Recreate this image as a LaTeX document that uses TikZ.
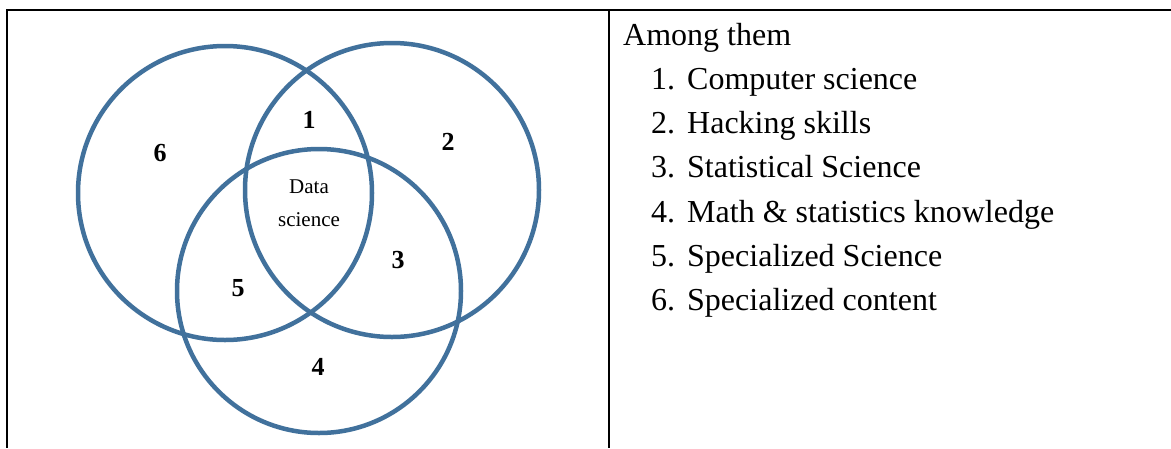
\documentclass[tikz,border=0pt]{standalone}
\usepackage{fontspec}
\setmainfont{Liberation Serif}
\usetikzlibrary{positioning}
\definecolor{ink}{HTML}{000000}
\definecolor{vennblue}{HTML}{41719C}
\definecolor{paper}{HTML}{FFFFFF}
\tikzset{
  rule/.style={draw=ink,line width=2pt},
  vennring/.style={draw=vennblue,line width=4.5pt},
  regionlbl/.style={font=\fontsize{26}{26}\selectfont\bfseries,inner sep=0pt},
  centrelbl/.style={font=\fontsize{21}{33}\selectfont,align=center,inner sep=0pt},
  listtext/.style={font=\fontsize{32}{34}\selectfont,anchor=base west,inner sep=0pt}
}
\begin{document}
\begin{tikzpicture}[x=1pt,y=-1pt]
  \useasboundingbox[fill=paper] (0,0) rectangle (1171,448);
  % table frame
  \draw[rule] (6,10) -- (1171,10);
  \draw[rule] (7,9) -- (7,448);
  \draw[rule] (609,9) -- (609,448);
  % venn rings
  \draw[vennring] (225,193) circle[radius=147pt];
  \draw[vennring] (392,190) circle[radius=147pt];
  \draw[vennring] (319,291) circle[radius=142pt];
  \node[regionlbl] (r1) at (309,120) {1};
  \node[regionlbl] (r2) at (448,142) {2};
  \node[regionlbl] (r3) at (398,260) {3};
  \node[regionlbl] (r4) at (318,367) {4};
  \node[regionlbl] (r5) at (238,288) {5};
  \node[regionlbl] (r6) at (160,153) {6};
  \node[centrelbl] (ds) at (309,203) {Data\\science};
  % list
  \node[listtext] (head) at (623,45) {Among them};
  \foreach \n/\txt in {1/Computer science,2/Hacking skills,3/Statistical Science,
      4/Math \& statistics knowledge,5/Specialized Science,6/Specialized content} {
    \node[listtext] (num\n) at (651,45+\n*44.3) {\n.};
    \node[listtext] (item\n) at (687,45+\n*44.3) {\txt};
  }
\end{tikzpicture}
\end{document}
